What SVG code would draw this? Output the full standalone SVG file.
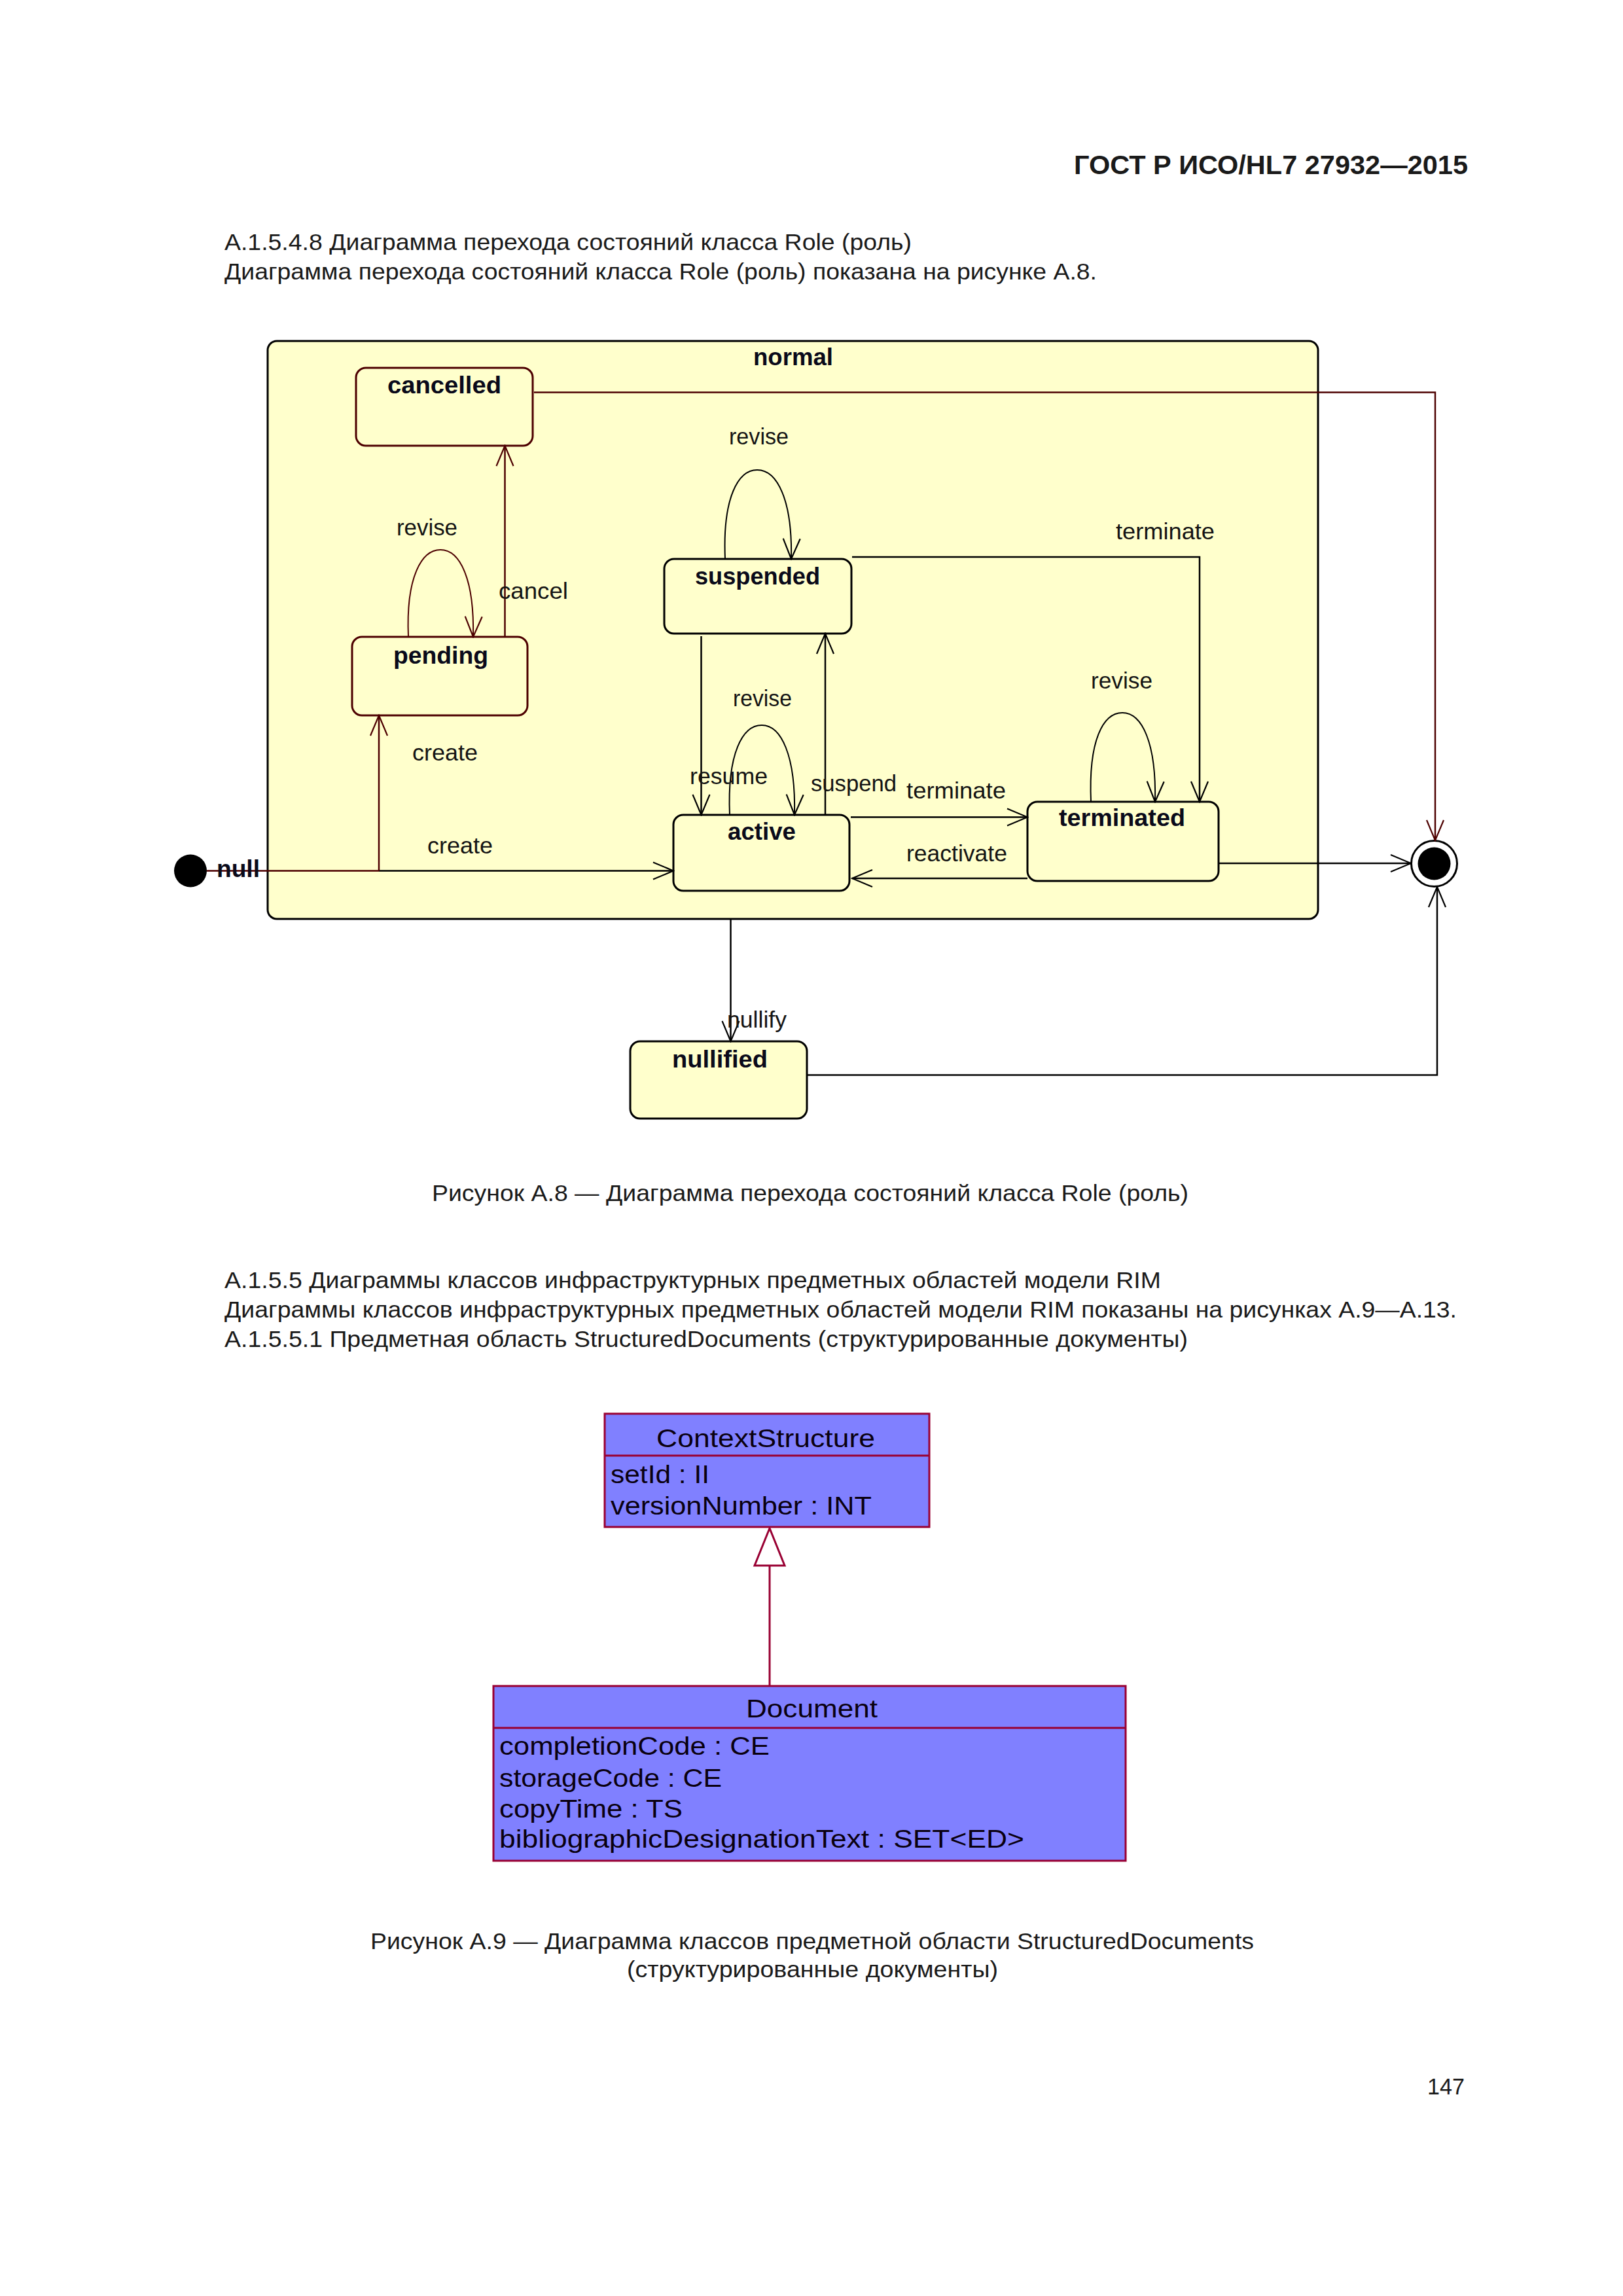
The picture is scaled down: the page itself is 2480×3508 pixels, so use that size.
<svg xmlns="http://www.w3.org/2000/svg" width="2480" height="3508" viewBox="0 0 2480 3508">
<style>
  .page{font-family:"Liberation Sans",Arial,sans-serif;font-size:35px;fill:#1a1a1a}
  .hdr{font-family:"Liberation Sans",Arial,sans-serif;font-size:40px;font-weight:bold;fill:#1a1a1a}
  .sname{font-family:"Liberation Sans",Arial,sans-serif;font-size:36px;font-weight:bold;fill:#0a0a1a}
  .lbl{font-family:"Liberation Sans",Arial,sans-serif;font-size:35px;fill:#141414}
  .cls{font-family:"Liberation Sans",Arial,sans-serif;font-size:38px;fill:#0a0010}
  .frame{fill:#FFFFCC;stroke:#000;stroke-width:3}
  .st{fill:#FFFFCC;stroke:#000;stroke-width:3}
  .stm{fill:#FFFFCC;stroke:#4d0000;stroke-width:3}
  .cn{fill:none;stroke:#000;stroke-width:2.5}
  .cnm{fill:none;stroke:#4d0000;stroke-width:2.5}
  .lp{fill:none;stroke:#000;stroke-width:2}
  .lpm{fill:none;stroke:#4d0000;stroke-width:2}
  .clsbox{fill:#8080FF;stroke:#990033;stroke-width:3}
  .gen{fill:none;stroke:#990033;stroke-width:3}
</style>
<defs>
  <marker id="ab" markerUnits="userSpaceOnUse" viewBox="-33 -15 35 30" refX="0" refY="0" markerWidth="35" markerHeight="30" orient="auto">
    <path d="M-31,-13 L0,0 L-31,13" fill="none" stroke="#000" stroke-width="2.2"/>
  </marker>
  <marker id="am" markerUnits="userSpaceOnUse" viewBox="-33 -15 35 30" refX="0" refY="0" markerWidth="35" markerHeight="30" orient="auto">
    <path d="M-31,-13 L0,0 L-31,13" fill="none" stroke="#4d0000" stroke-width="2.2"/>
  </marker>
</defs>
<rect width="2480" height="3508" fill="#fff"/>

<!-- page text -->
<g id="page-text">
  <text class="hdr" x="1641" y="266" textLength="602" lengthAdjust="spacingAndGlyphs">ГОСТ Р ИСО/HL7 27932—2015</text>
  <text class="page" x="343" y="382" textLength="1050" lengthAdjust="spacingAndGlyphs">А.1.5.4.8 Диаграмма перехода состояний класса Role (роль)</text>
  <text class="page" x="343" y="427" textLength="1333" lengthAdjust="spacingAndGlyphs">Диаграмма перехода состояний класса Role (роль) показана на рисунке А.8.</text>
  <text class="page" x="660" y="1835" textLength="1156" lengthAdjust="spacingAndGlyphs">Рисунок А.8 — Диаграмма перехода состояний класса Role (роль)</text>
  <text class="page" x="343" y="1968" textLength="1431" lengthAdjust="spacingAndGlyphs">А.1.5.5 Диаграммы классов инфраструктурных предметных областей модели RIM</text>
  <text class="page" x="343" y="2013" textLength="1883" lengthAdjust="spacingAndGlyphs">Диаграммы классов инфраструктурных предметных областей модели RIM показаны на рисунках А.9—А.13.</text>
  <text class="page" x="343" y="2058" textLength="1472" lengthAdjust="spacingAndGlyphs">А.1.5.5.1 Предметная область StructuredDocuments (структурированные документы)</text>
  <text class="page" x="566" y="2978" textLength="1350" lengthAdjust="spacingAndGlyphs">Рисунок А.9 — Диаграмма классов предметной области StructuredDocuments</text>
  <text class="page" x="958" y="3021" textLength="567" lengthAdjust="spacingAndGlyphs">(структурированные документы)</text>
  <text class="page" x="2181" y="3200" textLength="57" lengthAdjust="spacingAndGlyphs">147</text>
</g>

<!-- composite state normal -->
<g id="normal">
  <rect class="frame" x="409" y="521" width="1605" height="883" rx="14"/>
  <text class="sname" x="1151" y="558" textLength="122" lengthAdjust="spacingAndGlyphs">normal</text>
</g>

<g id="cancelled">
  <rect class="stm" x="544" y="562" width="270" height="119" rx="15"/>
  <text class="sname" x="592" y="601" textLength="174" lengthAdjust="spacingAndGlyphs">cancelled</text>
</g>
<g id="pending">
  <rect class="stm" x="538" y="973" width="268" height="120" rx="15"/>
  <text class="sname" x="601" y="1014" textLength="145" lengthAdjust="spacingAndGlyphs">pending</text>
</g>
<g id="suspended">
  <rect class="st" x="1015" y="854" width="286" height="114" rx="15"/>
  <text class="sname" x="1062" y="893" textLength="191" lengthAdjust="spacingAndGlyphs">suspended</text>
</g>
<g id="active">
  <rect class="st" x="1029" y="1245" width="269" height="116" rx="15"/>
  <text class="sname" x="1112" y="1283" textLength="104" lengthAdjust="spacingAndGlyphs">active</text>
</g>
<g id="terminated">
  <rect class="st" x="1570" y="1225" width="292" height="121" rx="15"/>
  <text class="sname" x="1618" y="1262" textLength="193" lengthAdjust="spacingAndGlyphs">terminated</text>
</g>
<g id="nullified">
  <rect class="st" x="963" y="1591" width="270" height="118" rx="15"/>
  <text class="sname" x="1027" y="1631" textLength="146" lengthAdjust="spacingAndGlyphs">nullified</text>
</g>
<g id="initial">
  <circle cx="291" cy="1330.5" r="25" fill="#000"/>
</g>
<g id="final">
  <circle cx="2191.5" cy="1319.5" r="35" fill="#fff" stroke="#000" stroke-width="3"/>
  <circle cx="2191.5" cy="1319.5" r="25" fill="#000"/>
</g>

<!-- connectors -->
<g id="connectors">
  <path class="cnm" d="M316,1330.5 H579"/>
  <path class="cn" d="M579,1330.5 H1029" marker-end="url(#ab)"/>
  <path class="cnm" d="M579,1330.5 V1093" marker-end="url(#am)"/>
  <path class="cnm" d="M771.5,973 V681" marker-end="url(#am)"/>
  <path class="lpm" d="M624,973 C620,880 645,840 673,840 C703,840 725,885 723,973" marker-end="url(#am)"/>
  <path class="cnm" d="M816,599.5 H2193 V1284" marker-end="url(#am)"/>
  <path class="lp" d="M1108,854 C1104,760 1128,718 1157,718 C1188,718 1211,765 1209,854" marker-end="url(#ab)"/>
  <path class="cn" d="M1302,851 H1833 V1225" marker-end="url(#ab)"/>
  <path class="cn" d="M1071.5,972 V1245" marker-end="url(#ab)"/>
  <path class="cn" d="M1261,1245 V968" marker-end="url(#ab)"/>
  <path class="lp" d="M1115,1245 C1111,1150 1135,1108 1164,1108 C1194,1108 1216,1155 1214,1245" marker-end="url(#ab)"/>
  <path class="cn" d="M1300,1248.5 H1570" marker-end="url(#ab)"/>
  <path class="cn" d="M1570,1342 H1302" marker-end="url(#ab)"/>
  <path class="lp" d="M1667,1225 C1663,1130 1686,1089 1715,1089 C1745,1089 1767,1135 1765,1225" marker-end="url(#ab)"/>
  <path class="cn" d="M1862,1319 H2156" marker-end="url(#ab)"/>
  <path class="cn" d="M1116.5,1404 V1591" marker-end="url(#ab)"/>
  <path class="cn" d="M1233,1642.5 H2196 V1355" marker-end="url(#ab)"/>

  <text class="sname" x="331" y="1340" textLength="66" lengthAdjust="spacingAndGlyphs">null</text>
  <text class="lbl" x="630" y="1162" textLength="100" lengthAdjust="spacingAndGlyphs">create</text>
  <text class="lbl" x="653" y="1304" textLength="100" lengthAdjust="spacingAndGlyphs">create</text>
  <text class="lbl" x="762" y="915" textLength="106" lengthAdjust="spacingAndGlyphs">cancel</text>
  <text class="lbl" x="606" y="818" textLength="93" lengthAdjust="spacingAndGlyphs">revise</text>
  <text class="lbl" x="1114" y="679" textLength="91" lengthAdjust="spacingAndGlyphs">revise</text>
  <text class="lbl" x="1705" y="824" textLength="151" lengthAdjust="spacingAndGlyphs">terminate</text>
  <text class="lbl" x="1120" y="1079" textLength="90" lengthAdjust="spacingAndGlyphs">revise</text>
  <text class="lbl" x="1054" y="1198" textLength="119" lengthAdjust="spacingAndGlyphs">resume</text>
  <text class="lbl" x="1239" y="1209" textLength="131" lengthAdjust="spacingAndGlyphs">suspend</text>
  <text class="lbl" x="1385" y="1220" textLength="152" lengthAdjust="spacingAndGlyphs">terminate</text>
  <text class="lbl" x="1385" y="1316" textLength="154" lengthAdjust="spacingAndGlyphs">reactivate</text>
  <text class="lbl" x="1667" y="1052" textLength="94" lengthAdjust="spacingAndGlyphs">revise</text>
  <text class="lbl" x="1111" y="1570" textLength="91" lengthAdjust="spacingAndGlyphs">nullify</text>

  <!-- class diagram generalization -->
  <path class="gen" d="M1176,2576 V2392"/>
  <polygon points="1176,2335 1153,2392 1199,2392" fill="#fff" stroke="#990033" stroke-width="3"/>
</g>

<!-- class diagram -->
<g id="ContextStructure">
  <rect class="clsbox" x="924" y="2160" width="496" height="173"/>
  <line x1="924" y1="2224" x2="1420" y2="2224" stroke="#990033" stroke-width="3"/>
  <text class="cls" x="1003" y="2211" textLength="334" lengthAdjust="spacingAndGlyphs">ContextStructure</text>
  <text class="cls" x="933" y="2266" textLength="151" lengthAdjust="spacingAndGlyphs">setId : II</text>
  <text class="cls" x="933" y="2314" textLength="399" lengthAdjust="spacingAndGlyphs">versionNumber : INT</text>
</g>
<g id="Document">
  <rect class="clsbox" x="754" y="2576" width="966" height="267"/>
  <line x1="754" y1="2640" x2="1720" y2="2640" stroke="#990033" stroke-width="3"/>
  <text class="cls" x="1140" y="2624" textLength="201" lengthAdjust="spacingAndGlyphs">Document</text>
  <text class="cls" x="763" y="2681" textLength="413" lengthAdjust="spacingAndGlyphs">completionCode : CE</text>
  <text class="cls" x="763" y="2730" textLength="340" lengthAdjust="spacingAndGlyphs">storageCode : CE</text>
  <text class="cls" x="763" y="2777" textLength="280" lengthAdjust="spacingAndGlyphs">copyTime : TS</text>
  <text class="cls" x="763" y="2823" textLength="802" lengthAdjust="spacingAndGlyphs">bibliographicDesignationText : SET&lt;ED&gt;</text>
</g>
</svg>
